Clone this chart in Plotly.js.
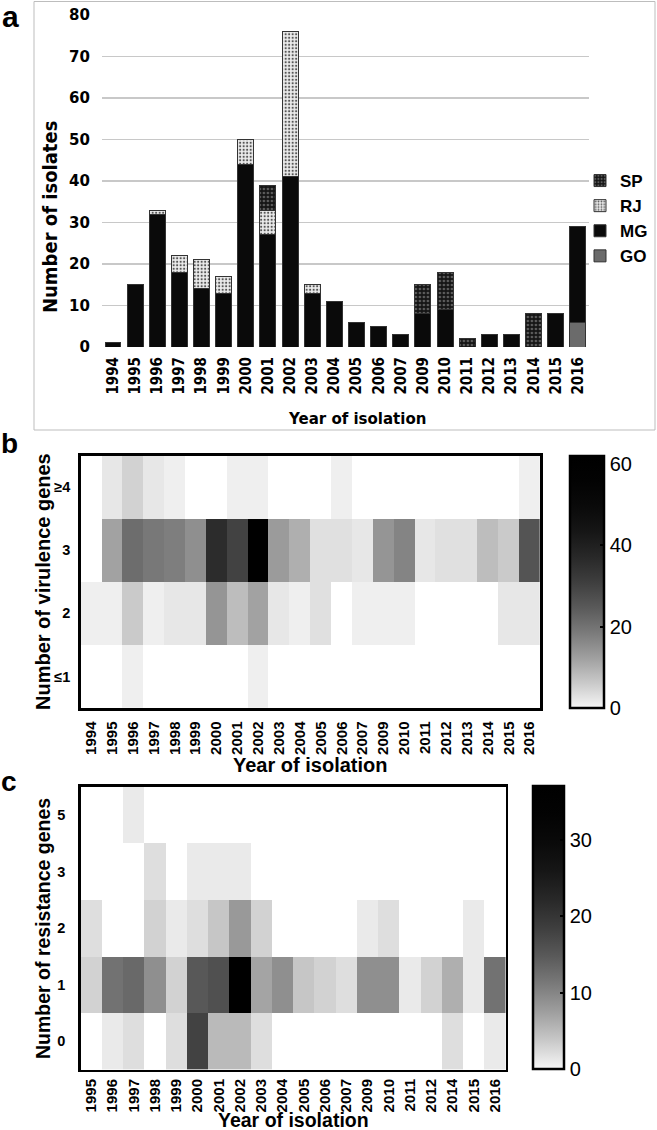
<!DOCTYPE html>
<html><head><meta charset="utf-8">
<script src="https://cdn.plot.ly/plotly-3.0.1.min.js"></script>
<style>html,body{margin:0;padding:0;background:#fff}#chart{width:657px;height:1130px}</style>
</head><body><div id="chart"></div>
<script>
// ---------- Panel a: isolates per year by state ----------
const yearsA = ['1994','1995','1996','1997','1998','1999','2000','2001','2002','2003','2004','2005','2006','2007','2009','2010','2011','2012','2013','2014','2015','2016'];
const goCounts = [0,0,0,0,0,0,0,0,0,0,0,0,0,0,0,0,0,0,0,0,0,6];
const mgCounts = [1,15,32,18,14,13,44,27,41,13,11,6,5,3,8,9,0,3,3,0,8,23];
const rjCounts = [0,0,1,4,7,4,6,6,35,2,0,0,0,0,0,0,0,0,0,0,0,0];
const spCounts = [0,0,0,0,0,0,0,6,0,0,0,0,0,0,7,9,2,0,0,8,0,0];

// ---------- Panel b: number of virulence genes ----------
const yearsB = ['1994','1995','1996','1997','1998','1999','2000','2001','2002','2003','2004','2005','2006','2007','2009','2010','2011','2012','2013','2014','2015','2016'];
const virLevels = ['≤1','2','3','≥4'];
const virLe1 = [0,0,1,0,0,0,0,0,1,0,0,0,0,0,0,0,0,0,0,0,0,0];
const vir2   = [1,1,6,1,2,2,14,8,12,2,1,3,0,1,1,1,0,0,0,0,2,2];
const vir3   = [0,12,21,19,18,15,36,30,62,13,10,3,3,2,14,17,2,3,3,8,6,26];
const virGe4 = [0,2,5,2,1,0,0,1,1,0,0,0,1,0,0,0,0,0,0,0,0,1];
const virTicks = [0,20,40,60];

// ---------- Panel c: number of resistance genes ----------
const yearsC = ['1995','1996','1997','1998','1999','2000','2001','2002','2003','2004','2005','2006','2007','2009','2010','2011','2012','2014','2015','2016'];
const resLevels = ['0','1','2','3','5'];
const res0 = [0,1,2,0,2,18,5,5,2,0,0,0,0,0,0,0,0,2,0,1];
const res1 = [3,12,13,9,3,15,16,37,7,9,4,3,2,9,9,1,3,6,1,12];
const res2 = [2,0,0,3,1,2,4,8,3,0,0,0,0,1,2,0,0,0,1,0];
const res3 = [0,0,0,2,0,1,1,1,0,0,0,0,0,0,0,0,0,0,0,0];
const res5 = [0,0,1,0,0,0,0,0,0,0,0,0,0,0,0,0,0,0,0,0];
const resTicks = [0,10,20,30];

// ---------- helpers ----------
const W = 657, H = 1130;
const px = v => v / W;
const py = v => 1 - v / H;
const blank = row => row.map(v => v === 0 ? null : v);

const F_ARIAL = 'Arial, "Liberation Sans", sans-serif';
const F_WIDE = '"DejaVu Sans", sans-serif';
const F_NARROW = '"Liberation Sans Narrow", "DejaVu Sans Condensed", "Arial Narrow", sans-serif';

const grayScale = [
  [0,'rgb(246,246,246)'],[0.1,'rgb(201,201,201)'],[0.2,'rgb(159,159,159)'],
  [0.3,'rgb(122,122,122)'],[0.4,'rgb(89,89,89)'],[0.5,'rgb(62,62,62)'],
  [0.6,'rgb(40,40,40)'],[0.7,'rgb(22,22,22)'],[0.8,'rgb(10,10,10)'],
  [0.9,'rgb(3,3,3)'],[1,'rgb(0,0,0)']
];

const barLine = {color:'#333333', width:1};
const traces = [
  {type:'bar', name:'GO', x:yearsA, y:goCounts, xaxis:'x', yaxis:'y',
   marker:{color:'#6b6b6b', line:barLine}},
  {type:'bar', name:'MG', x:yearsA, y:mgCounts, xaxis:'x', yaxis:'y',
   marker:{color:'#0a0a0a', line:barLine}},
  {type:'bar', name:'RJ', x:yearsA, y:rjCounts, xaxis:'x', yaxis:'y',
   marker:{color:'#e6e6e6', line:barLine,
           pattern:{shape:'.', bgcolor:'#ececec', fgcolor:'#555555', size:3.5, solidity:0.3, fillmode:'replace'}}},
  {type:'bar', name:'SP', x:yearsA, y:spCounts, xaxis:'x', yaxis:'y',
   marker:{color:'#151515', line:barLine,
           pattern:{shape:'.', bgcolor:'#151515', fgcolor:'#5c5c5c', size:4, solidity:0.35, fillmode:'replace'}}},
  {type:'heatmap', x:yearsB, y:virLevels, z:[virLe1, vir2, vir3, virGe4].map(blank),
   xaxis:'x2', yaxis:'y2', zmin:0, zmax:62, colorscale:grayScale, showscale:true, hoverongaps:false,
   colorbar:{x:px(570), xanchor:'left', xref:'paper', xpad:0, y:py(581.85), yanchor:'middle', ypad:0,
             len:252.3, lenmode:'pixels', thickness:34, thicknessmode:'pixels',
             outlinewidth:2.5, outlinecolor:'#000', tickvals:virTicks, ticks:'inside', ticklen:5, tickwidth:2, tickcolor:'#000',
             tickfont:{family:F_ARIAL, size:20, color:'#000'}}},
  {type:'heatmap', x:yearsC, y:resLevels, z:[res0, res1, res2, res3, res5].map(blank),
   xaxis:'x3', yaxis:'y3', zmin:0, zmax:37, colorscale:grayScale, showscale:true, hoverongaps:false,
   colorbar:{x:px(533), xanchor:'left', xref:'paper', xpad:0, y:py(927.85), yanchor:'middle', ypad:0,
             len:283.3, lenmode:'pixels', thickness:31, thicknessmode:'pixels',
             outlinewidth:2.5, outlinecolor:'#000', tickvals:resTicks, ticks:'inside', ticklen:5, tickwidth:2, tickcolor:'#000',
             tickfont:{family:F_ARIAL, size:20, color:'#000'}}}
];

const boxAxis = {showline:true, mirror:true, linecolor:'#000', linewidth:2.5, showgrid:false, zeroline:false, ticks:''};

const ann = (text, x, y, size, family, angle, extra) => Object.assign({
  text, x:px(x), y:py(y), xref:'paper', yref:'paper', showarrow:false,
  xanchor:'center', yanchor:'middle', textangle:angle||0,
  font:{family, size, color:'#000', weight:'bold'}
}, extra||{});

const layout = {
  width:W, height:H, margin:{l:0, r:0, t:0, b:0},
  paper_bgcolor:'#fff', plot_bgcolor:'#fff',
  font:{family:F_ARIAL, color:'#000'},
  barmode:'stack', bargap:0.28,
  showlegend:true,
  legend:{x:px(580), y:py(163), xanchor:'left', yanchor:'top', traceorder:'reversed',
          bgcolor:'rgba(0,0,0,0)', font:{family:F_ARIAL, size:17, color:'#000', weight:'bold'}},
  xaxis:{domain:[px(101.9), px(589)], anchor:'y', type:'category', categoryorder:'array', categoryarray:yearsA,
         showgrid:false, showline:false, zeroline:false, ticks:'', tickangle:-90, ticklabelstandoff:6,
         tickfont:{family:F_NARROW, size:15, color:'#000', weight:'bold'}},
  yaxis:{domain:[py(347), py(15)], anchor:'x', range:[0,80], dtick:10, showgrid:true, gridcolor:'#c8c8c8', gridwidth:1.3,
         zeroline:false, showline:false, ticks:'', ticklabelstandoff:11,
         tickfont:{family:F_WIDE, size:15, color:'#000', weight:'bold'}},
  xaxis2:Object.assign({}, boxAxis, {domain:[px(80.7), px(540)], anchor:'y2', type:'category',
         categoryorder:'array', categoryarray:yearsB, tickangle:-90, ticklabelstandoff:5,
         tickfont:{family:F_ARIAL, size:15, color:'#000', weight:'bold'}}),
  yaxis2:Object.assign({}, boxAxis, {domain:[py(708), py(455.7)], anchor:'x2', type:'category',
         categoryorder:'array', categoryarray:virLevels, ticklabelstandoff:5,
         tickfont:{family:F_ARIAL, size:14.5, color:'#000', weight:'bold'}}),
  xaxis3:Object.assign({}, boxAxis, {domain:[px(80.7), px(505.7)], anchor:'y3', type:'category',
         categoryorder:'array', categoryarray:yearsC, tickangle:-90, ticklabelstandoff:1,
         tickfont:{family:F_ARIAL, size:15, color:'#000', weight:'bold'}}),
  yaxis3:Object.assign({}, boxAxis, {domain:[py(1069.5), py(786.7)], anchor:'x3', type:'category',
         categoryorder:'array', categoryarray:resLevels, ticklabelstandoff:10,
         tickfont:{family:F_ARIAL, size:14.5, color:'#000', weight:'bold'}}),
  shapes:[{type:'rect', xref:'paper', yref:'paper', x0:px(34), x1:px(655), y0:py(430), y1:py(1.5),
           line:{color:'#bdbdbd', width:1}, fillcolor:'rgba(0,0,0,0)', layer:'below'}],
  annotations:[
    ann('a', 10, 17, 30, F_ARIAL),
    ann('b', 9, 443, 28, F_ARIAL),
    ann('c', 9, 781, 28, F_ARIAL),
    ann('Number of isolates', 50, 217, 20, F_NARROW, -90),
    ann('Year of isolation', 357, 419, 15, F_WIDE),
    ann('Number of virulence genes', 43, 582, 20, F_ARIAL, -90),
    ann('Year of isolation', 310, 765, 20, F_ARIAL),
    ann('Number of resistance genes', 43, 929, 19.5, F_ARIAL, -90),
    ann('Year of isolation', 293, 1120, 19.5, F_ARIAL)
  ]
};

Plotly.newPlot('chart', traces, layout, {staticPlot:true, displayModeBar:false});
</script>
</body></html>
